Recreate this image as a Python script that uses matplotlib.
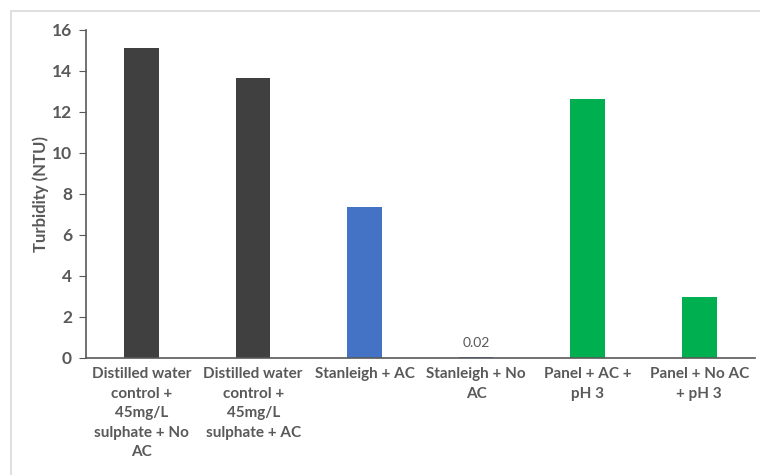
import matplotlib.pyplot as plt
from matplotlib.patches import Rectangle

categories = [
    "Distilled water\ncontrol +\n45mg/L\nsulphate + No\nAC",
    "Distilled water\ncontrol +\n45mg/L\nsulphate + AC",
    "Stanleigh + AC",
    "Stanleigh + No\nAC",
    "Panel + AC +\npH 3",
    "Panel + No AC\n+ pH 3",
]
turbidity = [15.12, 13.63, 7.36, 0.02, 12.62, 2.98]
colors = ["#404040", "#404040", "#4472C4", "#4472C4", "#00B050", "#00B050"]

text_gray = "#595959"
plt.rcParams['font.family'] = ['Lato', 'DejaVu Sans']

fig = plt.figure(figsize=(7.6, 4.75), dpi=100)
# light chart-area border
fig.patches.append(Rectangle((11 / 760, -0.05), 1.1, 1 - 11 / 475 + 0.05,
                             transform=fig.transFigure, fill=False,
                             edgecolor="#D9D9D9", linewidth=1.2))
ax = fig.add_axes([0.113, 0.247, 0.8804, 0.6905])

x = range(len(categories))
bars = ax.bar(x, turbidity, width=0.31, color=colors)

# only the tiny value gets a label
ax.annotate(f"{turbidity[3]:.2f}", (3, turbidity[3]), xytext=(0, 6),
            textcoords="offset points", ha="center", va="bottom",
            fontsize=10, color=text_gray)

ax.set_xlim(-0.5, len(categories) - 0.5)
ax.set_ylim(0, 16)
ax.set_yticks(range(0, 17, 2))
ax.set_xticks(list(x))
ax.set_xticklabels(categories, fontsize=11, fontweight="bold",
                   color=text_gray, linespacing=1.5)
ax.tick_params(axis="x", length=0, pad=7)
ax.tick_params(axis="y", direction="out", length=5, color=text_gray,
               labelsize=12.5, labelcolor=text_gray, pad=5)
for lab in ax.get_yticklabels():
    lab.set_fontweight("bold")
ax.set_ylabel("Turbidity (NTU)", fontsize=12, fontweight="bold",
              color=text_gray, labelpad=2)

for side in ("top", "right"):
    ax.spines[side].set_visible(False)
ax.spines["left"].set_color(text_gray)
ax.spines["bottom"].set_color(text_gray)
ax.spines["left"].set_linewidth(1.2)
ax.spines["bottom"].set_linewidth(1.2)

fig.savefig("out.png", dpi=100)
